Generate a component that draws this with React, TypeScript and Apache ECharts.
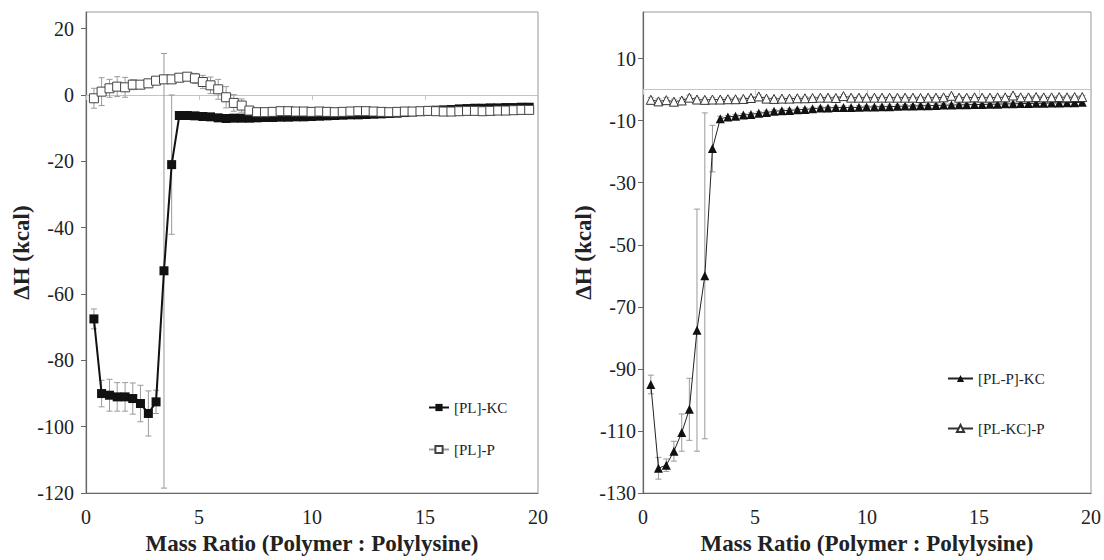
import React, { useEffect, useRef } from 'react';
import * as echarts from 'echarts';

// ---- data ----
const massRatio = [
  0.35, 0.69, 1.04, 1.38, 1.73, 2.07, 2.41, 2.76, 3.10, 3.45,
  3.79, 4.13, 4.48, 4.82, 5.17, 5.51, 5.85, 6.20, 6.54, 6.89,
  7.23, 7.57, 7.92, 8.26, 8.61, 8.95, 9.29, 9.64, 9.98, 10.33,
  10.67, 11.01, 11.36, 11.70, 12.05, 12.39, 12.73, 13.08, 13.42, 13.77,
  14.11, 14.45, 14.80, 15.14, 15.49, 15.83, 16.17, 16.52, 16.86, 17.21,
  17.55, 17.89, 18.24, 18.58, 18.93, 19.27, 19.61,
];

const kcLeft = [
  -67.5, -90, -90.5, -91, -91, -91.5, -93, -96, -92.5, -53,
  -21, -6.2, -6.2, -6.3, -6.5, -6.6, -6.9, -7.1, -7.0, -7.0,
  -7.0, -6.9, -6.8, -6.8, -6.7, -6.7, -6.6, -6.6, -6.5, -6.4,
  -6.3, -6.2, -6.1, -6.0, -6.0, -5.9, -5.8, -5.7, -5.6, -5.5,
  -5.3, -5.1, -5.0, -4.8, -4.6, -4.5, -4.4, -4.2, -4.1, -4.0,
  -4.0, -3.9, -3.9, -3.8, -3.8, -3.7, -3.7,
];
const kcLeftErr = [
  3, 4, 4.8, 4.3, 4.3, 4.7, 5.5, 6.8, 3.5, 65.5,
  21, 0.5, 0.5, 0.5, 0.5, 0.5, 0.5, 0.5, 0.5, 0.5,
  0.5, 0.5, 0.5, 0.5, 0.5, 0.5, 0.5, 0.5, 0.5, 0.5,
  0.5, 0.5, 0.5, 0.5, 0.5, 0.5, 0.5, 0.5, 0.5, 0.5,
  0.5, 0.5, 0.5, 0.5, 0.5, 0.5, 0.5, 0.5, 0.5, 0.5,
  0.5, 0.5, 0.5, 0.5, 0.5, 0.5, 0.5,
];

const pLeft = [
  -1.0, 1.0, 2.0, 2.5, 2.3, 3.1, 3.1, 3.5, 4.3, 4.7,
  4.7, 5.2, 5.5, 5.0, 3.9, 2.9, 1.7, -0.7, -2.4, -3.2,
  -4.7, -5.2, -5.2, -5.1, -4.9, -4.9, -5.0, -5.0, -5.1, -5.0,
  -5.1, -5.2, -5.1, -5.0, -4.9, -4.9, -5.0, -5.1, -5.2, -5.1,
  -5.0, -5.0, -4.9, -4.8, -4.9, -5.0, -5.0, -4.9, -4.8, -4.8,
  -4.9, -4.8, -4.7, -4.7, -4.6, -4.5, -4.5,
];
const pLeftErr = [
  3, 4.2, 2.7, 3, 3, 1.5, 1, 1, 1, 1,
  1, 0.8, 0.5, 1.5, 2, 2.5, 3, 3.2, 2.5, 2,
  1, 0.5, 0.5, 0.5, 0.5, 0.5, 0.5, 0.5, 0.5, 0.5,
  0.5, 0.5, 0.5, 0.5, 0.5, 0.5, 0.5, 0.5, 0.5, 0.5,
  0.5, 0.5, 0.5, 0.5, 0.5, 0.5, 0.5, 0.5, 0.5, 0.5,
  0.5, 0.5, 0.5, 0.5, 0.5, 0.5, 0.5,
];

const kcRight = [
  -95, -122, -121, -116.5, -110.5, -103, -77.5, -60, -19, -9.4,
  -8.8, -8.6, -8.2, -8.0, -7.6, -7.4, -7.0, -6.8, -6.7, -6.5,
  -6.4, -6.2, -5.9, -5.9, -5.8, -5.8, -5.8, -5.7, -5.6, -5.6,
  -5.5, -5.5, -5.4, -5.3, -5.3, -5.2, -5.2, -5.1, -5.0, -5.0,
  -4.9, -4.9, -4.8, -4.8, -4.7, -4.7, -4.6, -4.6, -4.5, -4.5,
  -4.4, -4.4, -4.3, -4.3, -4.2, -4.2, -4.1,
];
const kcRightErr = [
  3, 3.5, 2, 3.2, 6, 10, 39, 52.5, 7.5, 0.8,
  0.5, 0.5, 0.5, 0.5, 0.5, 0.5, 0.5, 0.5, 0.5, 0.5,
  0.5, 0.5, 0.5, 0.5, 0.5, 0.5, 0.5, 0.5, 0.5, 0.5,
  0.5, 0.5, 0.5, 0.5, 0.5, 0.5, 0.5, 0.5, 0.5, 0.5,
  0.5, 0.5, 0.5, 0.5, 0.5, 0.5, 0.5, 0.5, 0.5, 0.5,
  0.5, 0.5, 0.5, 0.5, 0.5, 0.5, 0.5,
];

const pRight = [
  -3.3, -3.8, -3.4, -3.9, -3.5, -2.6, -3.2, -3.3, -3.2, -3.2,
  -3.1, -3.1, -3.0, -2.7, -2.2, -2.9, -3.0, -2.9, -2.9, -2.8,
  -2.8, -2.7, -2.6, -2.6, -2.7, -2.1, -2.6, -2.6, -2.6, -2.6,
  -2.6, -2.6, -2.6, -2.6, -2.6, -2.7, -2.6, -2.6, -2.5, -2.0,
  -2.6, -2.6, -2.5, -2.6, -2.6, -2.5, -2.5, -1.9, -2.5, -2.5,
  -2.4, -2.5, -2.5, -2.4, -2.5, -2.4, -2.4,
];
const pRightErr = [
  0.8, 0.8, 0.8, 0.8, 0.8, 0.8, 0.6, 0.6, 0.6, 0.6,
  0.5, 0.5, 0.5, 0.5, 0.5, 0.5, 0.5, 0.5, 0.5, 0.5,
  0.5, 0.5, 0.5, 0.5, 0.5, 0.5, 0.5, 0.5, 0.5, 0.5,
  0.5, 0.5, 0.5, 0.5, 0.5, 0.5, 0.5, 0.5, 0.5, 0.5,
  0.5, 0.5, 0.5, 0.5, 0.5, 0.5, 0.5, 0.5, 0.5, 0.5,
  0.5, 0.5, 0.5, 0.5, 0.5, 0.5, 0.5,
];

const legendLeft = ['[PL]-KC', '[PL]-P'];
const legendRight = ['[PL-P]-KC', '[PL-KC]-P'];
const xTitle = 'Mass Ratio (Polymer : Polylysine)';
const yTitle = 'ΔH (kcal)';

const FONT = 'Liberation Serif';

const pairs = (ys: number[]) => massRatio.map((x, i) => [x, ys[i]]);
const triples = (ys: number[], es: number[]) => massRatio.map((x, i) => [x, ys[i], es[i]]);

const errorBar = (params: any, api: any) => {
  const x = api.value(0);
  const y = api.value(1);
  const e = api.value(2);
  const top = api.coord([x, y + e]);
  const bot = api.coord([x, y - e]);
  const c = 3;
  const style = { stroke: '#9a9a9a', lineWidth: 1, fill: null };
  return {
    type: 'group',
    children: [
      { type: 'line', shape: { x1: top[0], y1: top[1], x2: bot[0], y2: bot[1] }, style },
      { type: 'line', shape: { x1: top[0] - c, y1: top[1], x2: top[0] + c, y2: top[1] }, style },
      { type: 'line', shape: { x1: bot[0] - c, y1: bot[1], x2: bot[0] + c, y2: bot[1] }, style },
    ],
  };
};

const labelStyle = { color: '#222', fontFamily: FONT, fontSize: 20 };
const nameStyle = { color: '#222', fontFamily: FONT, fontSize: 23, fontWeight: 'bold' as const };

function bottomX(grid: number, gap: number) {
  return {
    type: 'value', gridIndex: grid, min: 0, max: 20, interval: 5, position: 'bottom',
    axisLine: { show: true, onZero: false, lineStyle: { color: '#666', width: 1.2 } },
    axisTick: { show: false },
    axisLabel: { ...labelStyle, margin: 14 },
    splitLine: { show: false },
    name: xTitle, nameLocation: 'middle', nameGap: gap, nameTextStyle: nameStyle,
  };
}
function zeroX(grid: number) {
  return {
    type: 'value', gridIndex: grid, min: 0, max: 20, interval: 5, position: 'bottom',
    axisLine: { show: true, onZero: true, lineStyle: { color: '#c4c4c4', width: 1 } },
    axisTick: { show: true, length: 5, lineStyle: { color: '#c4c4c4' } },
    axisLabel: { show: false },
    splitLine: { show: false },
  };
}
function leftY(grid: number, min: number, gap: number, margin: number) {
  return {
    type: 'value', gridIndex: grid, min, max: 25, interval: 20,
    axisLine: { show: true, onZero: false, lineStyle: { color: '#666', width: 1.2 } },
    axisTick: { show: true, length: 5, lineStyle: { color: '#666' } },
    axisLabel: { ...labelStyle, margin, showMaxLabel: false },
    splitLine: { show: false },
    name: yTitle, nameLocation: 'middle', nameGap: gap, nameTextStyle: nameStyle,
  };
}

export default function App() {
  const ref = useRef<HTMLDivElement>(null);
  useEffect(() => {
    if (!ref.current) return;
    const chart = echarts.init(ref.current, undefined, { renderer: 'svg' });
    const legendCommon = {
      orient: 'vertical', selectedMode: false,
      textStyle: { color: '#222', fontFamily: FONT, fontSize: 15 },
    };
    chart.setOption({
      animation: false,
      backgroundColor: '#fff',
      grid: [
        { left: 86, top: 12, width: 452, height: 486, show: true, borderColor: '#999', borderWidth: 1, backgroundColor: 'transparent' },
        { left: 643, top: 12, width: 449, height: 482, show: true, borderColor: '#999', borderWidth: 1, backgroundColor: 'transparent' },
      ],
      xAxis: [bottomX(0, 37), zeroX(0), bottomX(1, 35), zeroX(1)],
      yAxis: [leftY(0, -120, 49, 12), leftY(1, -130, 43, 7)],
      legend: [
        { ...legendCommon, data: legendLeft, left: 423, top: 395, itemWidth: 20, itemHeight: 9, itemGap: 27 },
        { ...legendCommon, data: legendRight, left: 942, top: 366, itemWidth: 25, itemHeight: 9, itemGap: 35 },
      ],
      series: [
        { type: 'custom', name: 'err-kc-left', xAxisIndex: 0, yAxisIndex: 0, renderItem: errorBar, data: triples(kcLeft, kcLeftErr), encode: { x: 0, y: 1 }, z: 1, silent: true },
        { type: 'custom', name: 'err-p-left', xAxisIndex: 0, yAxisIndex: 0, renderItem: errorBar, data: triples(pLeft, pLeftErr), encode: { x: 0, y: 1 }, z: 1, silent: true },
        { type: 'custom', name: 'err-kc-right', xAxisIndex: 2, yAxisIndex: 1, renderItem: errorBar, data: triples(kcRight, kcRightErr), encode: { x: 0, y: 1 }, z: 1, silent: true },
        { type: 'custom', name: 'err-p-right', xAxisIndex: 2, yAxisIndex: 1, renderItem: errorBar, data: triples(pRight, pRightErr), encode: { x: 0, y: 1 }, z: 1, silent: true },
        {
          name: legendLeft[0], type: 'line', xAxisIndex: 0, yAxisIndex: 0, data: pairs(kcLeft),
          symbol: 'rect', symbolSize: 9, itemStyle: { color: '#111' }, lineStyle: { color: '#111', width: 2 }, z: 3,
        },
        {
          name: legendLeft[1], type: 'line', xAxisIndex: 0, yAxisIndex: 0, data: pairs(pLeft),
          symbol: 'rect', symbolSize: 9, itemStyle: { color: '#fff', borderColor: '#444', borderWidth: 1 },
          lineStyle: { color: '#999', width: 1 }, z: 4,
        },
        {
          name: legendRight[0], type: 'line', xAxisIndex: 2, yAxisIndex: 1, data: pairs(kcRight),
          symbol: 'triangle', symbolSize: 9, itemStyle: { color: '#111' }, lineStyle: { color: '#222', width: 1 }, z: 3,
        },
        {
          name: legendRight[1], type: 'line', xAxisIndex: 2, yAxisIndex: 1, data: pairs(pRight),
          symbol: 'triangle', symbolSize: 9, itemStyle: { color: '#fff', borderColor: '#333', borderWidth: 1 },
          lineStyle: { color: '#333', width: 1 }, z: 4,
        },
      ],
    });
    return () => chart.dispose();
  }, []);
  return <div ref={ref} style={{ position: 'absolute', left: 0, top: 0, width: 1104, height: 560 }} />;
}
